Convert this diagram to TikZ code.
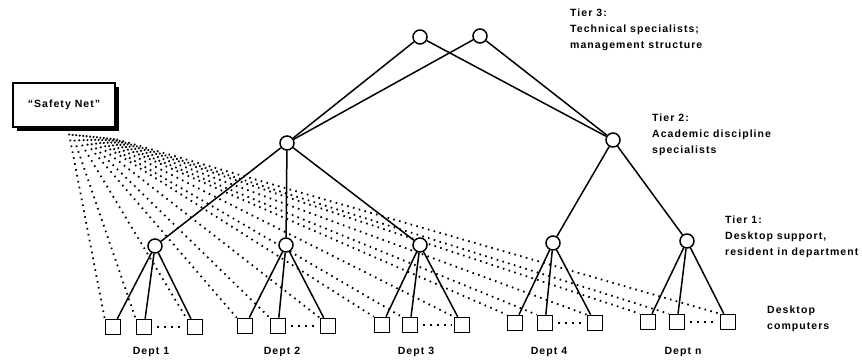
\documentclass[tikz,border=0pt]{standalone}
\usepackage{fontspec}
\setmainfont{Liberation Sans}[LetterSpace=10]
\usetikzlibrary{shadows,backgrounds}
\begin{document}
\begin{tikzpicture}[x=1pt,y=-1pt,
  circ/.style={circle,draw,line width=1.5pt,minimum size=14pt,inner sep=0pt,fill=white},
  sq/.style={rectangle,draw,line width=1.6pt,minimum size=15pt,inner sep=0pt,fill=white},
  edge/.style={line width=1.5pt},
  fan/.style={line width=1.8pt,dash pattern=on 1.6pt off 4.4pt},
  gapdots/.style={line width=1.9pt,dash pattern=on 1.8pt off 5pt},
  lbl/.style={font=\bfseries\fontsize{10.5}{16}\selectfont,align=left,inner sep=0pt,anchor=north west},
  dept/.style={font=\bfseries\fontsize{10.5}{12}\selectfont,inner sep=0pt}]
\useasboundingbox (0,0) rectangle (862,363);

% Safety net box
\node[draw,line width=1.5pt,fill=white,minimum width=102pt,minimum height=44pt,
  drop shadow={shadow xshift=4pt,shadow yshift=-4pt,fill=black,opacity=1},
  font=\bfseries\fontsize{10.5}{12}\selectfont] (net) at (64,105) {``Safety Net''};

% Tier 3
\node[circ] (a1) at (420,37) {};
\node[circ] (a2) at (480,36) {};
% Tier 2
\node[circ] (b1) at (287,143) {};
\node[circ] (b2) at (613,140) {};
% Tier 1
\node[circ] (c1) at (155,246) {};
\node[circ] (c2) at (286,245) {};
\node[circ] (c3) at (420,245) {};
\node[circ] (c4) at (553,243) {};
\node[circ] (c5) at (687,241) {};

% Desktop squares
\foreach \d/\xa/\xb/\xc/\yy in {1/113/144/195/327, 2/245/278/328/326, 3/382/410/462/325, 4/515/545/595/323, 5/648/677/728/322}{
  \node[sq] (s\d a) at (\xa,\yy) {};
  \node[sq] (s\d b) at (\xb,\yy) {};
  \node[sq] (s\d c) at (\xc,\yy) {};
  \draw[edge] (c\d) -- (s\d a);
  \draw[edge] (c\d) -- (s\d b);
  \draw[edge] (c\d) -- (s\d c);
  \draw[gapdots] (s\d b.east) ++(5,0) -- ([xshift=-3pt]s\d c.west);
}

% Tree edges
\draw[edge] (a1) -- (b1);
\draw[edge] (a1) -- (b2);
\draw[edge] (a2) -- (b1);
\draw[edge] (a2) -- (b2);
\draw[edge] (b1) -- (c1);
\draw[edge] (b1) -- (c2);
\draw[edge] (b1) -- (c3);
\draw[edge] (b2) -- (c4);
\draw[edge] (b2) -- (c5);

% Safety net fan
\begin{scope}[on background layer]
\foreach \t [count=\i from 0] in {s1a,s1b,s1c,s2a,s2b,s2c,s3a,s3b,s3c,s4a,s4b,s4c,s5a,s5b,s5c}{
  \coordinate (f\i) at ([xshift={5pt+3.4pt*\i},yshift={-6pt-0.4pt*\i}]net.south);
  \draw[fan] (f\i) -- (\t.north west);
}
\end{scope}

% Labels
\node[lbl] (t3) at (570,9) {Tier 3:\\Technical specialists;\\management structure};
\node[lbl] (t2) at (652,114) {Tier 2:\\Academic discipline\\specialists};
\node[lbl] (t1) at (725,216) {Tier 1:\\Desktop support,\\resident in department};
\node[lbl] (dc) at (767,306) {Desktop\\computers};

\node[dept] (d1) at (151,352) {Dept 1};
\node[dept] (d2) at (282,352) {Dept 2};
\node[dept] (d3) at (416,352) {Dept 3};
\node[dept] (d4) at (549,352) {Dept 4};
\node[dept] (d5) at (683,352) {Dept n};
\end{tikzpicture}
\end{document}
